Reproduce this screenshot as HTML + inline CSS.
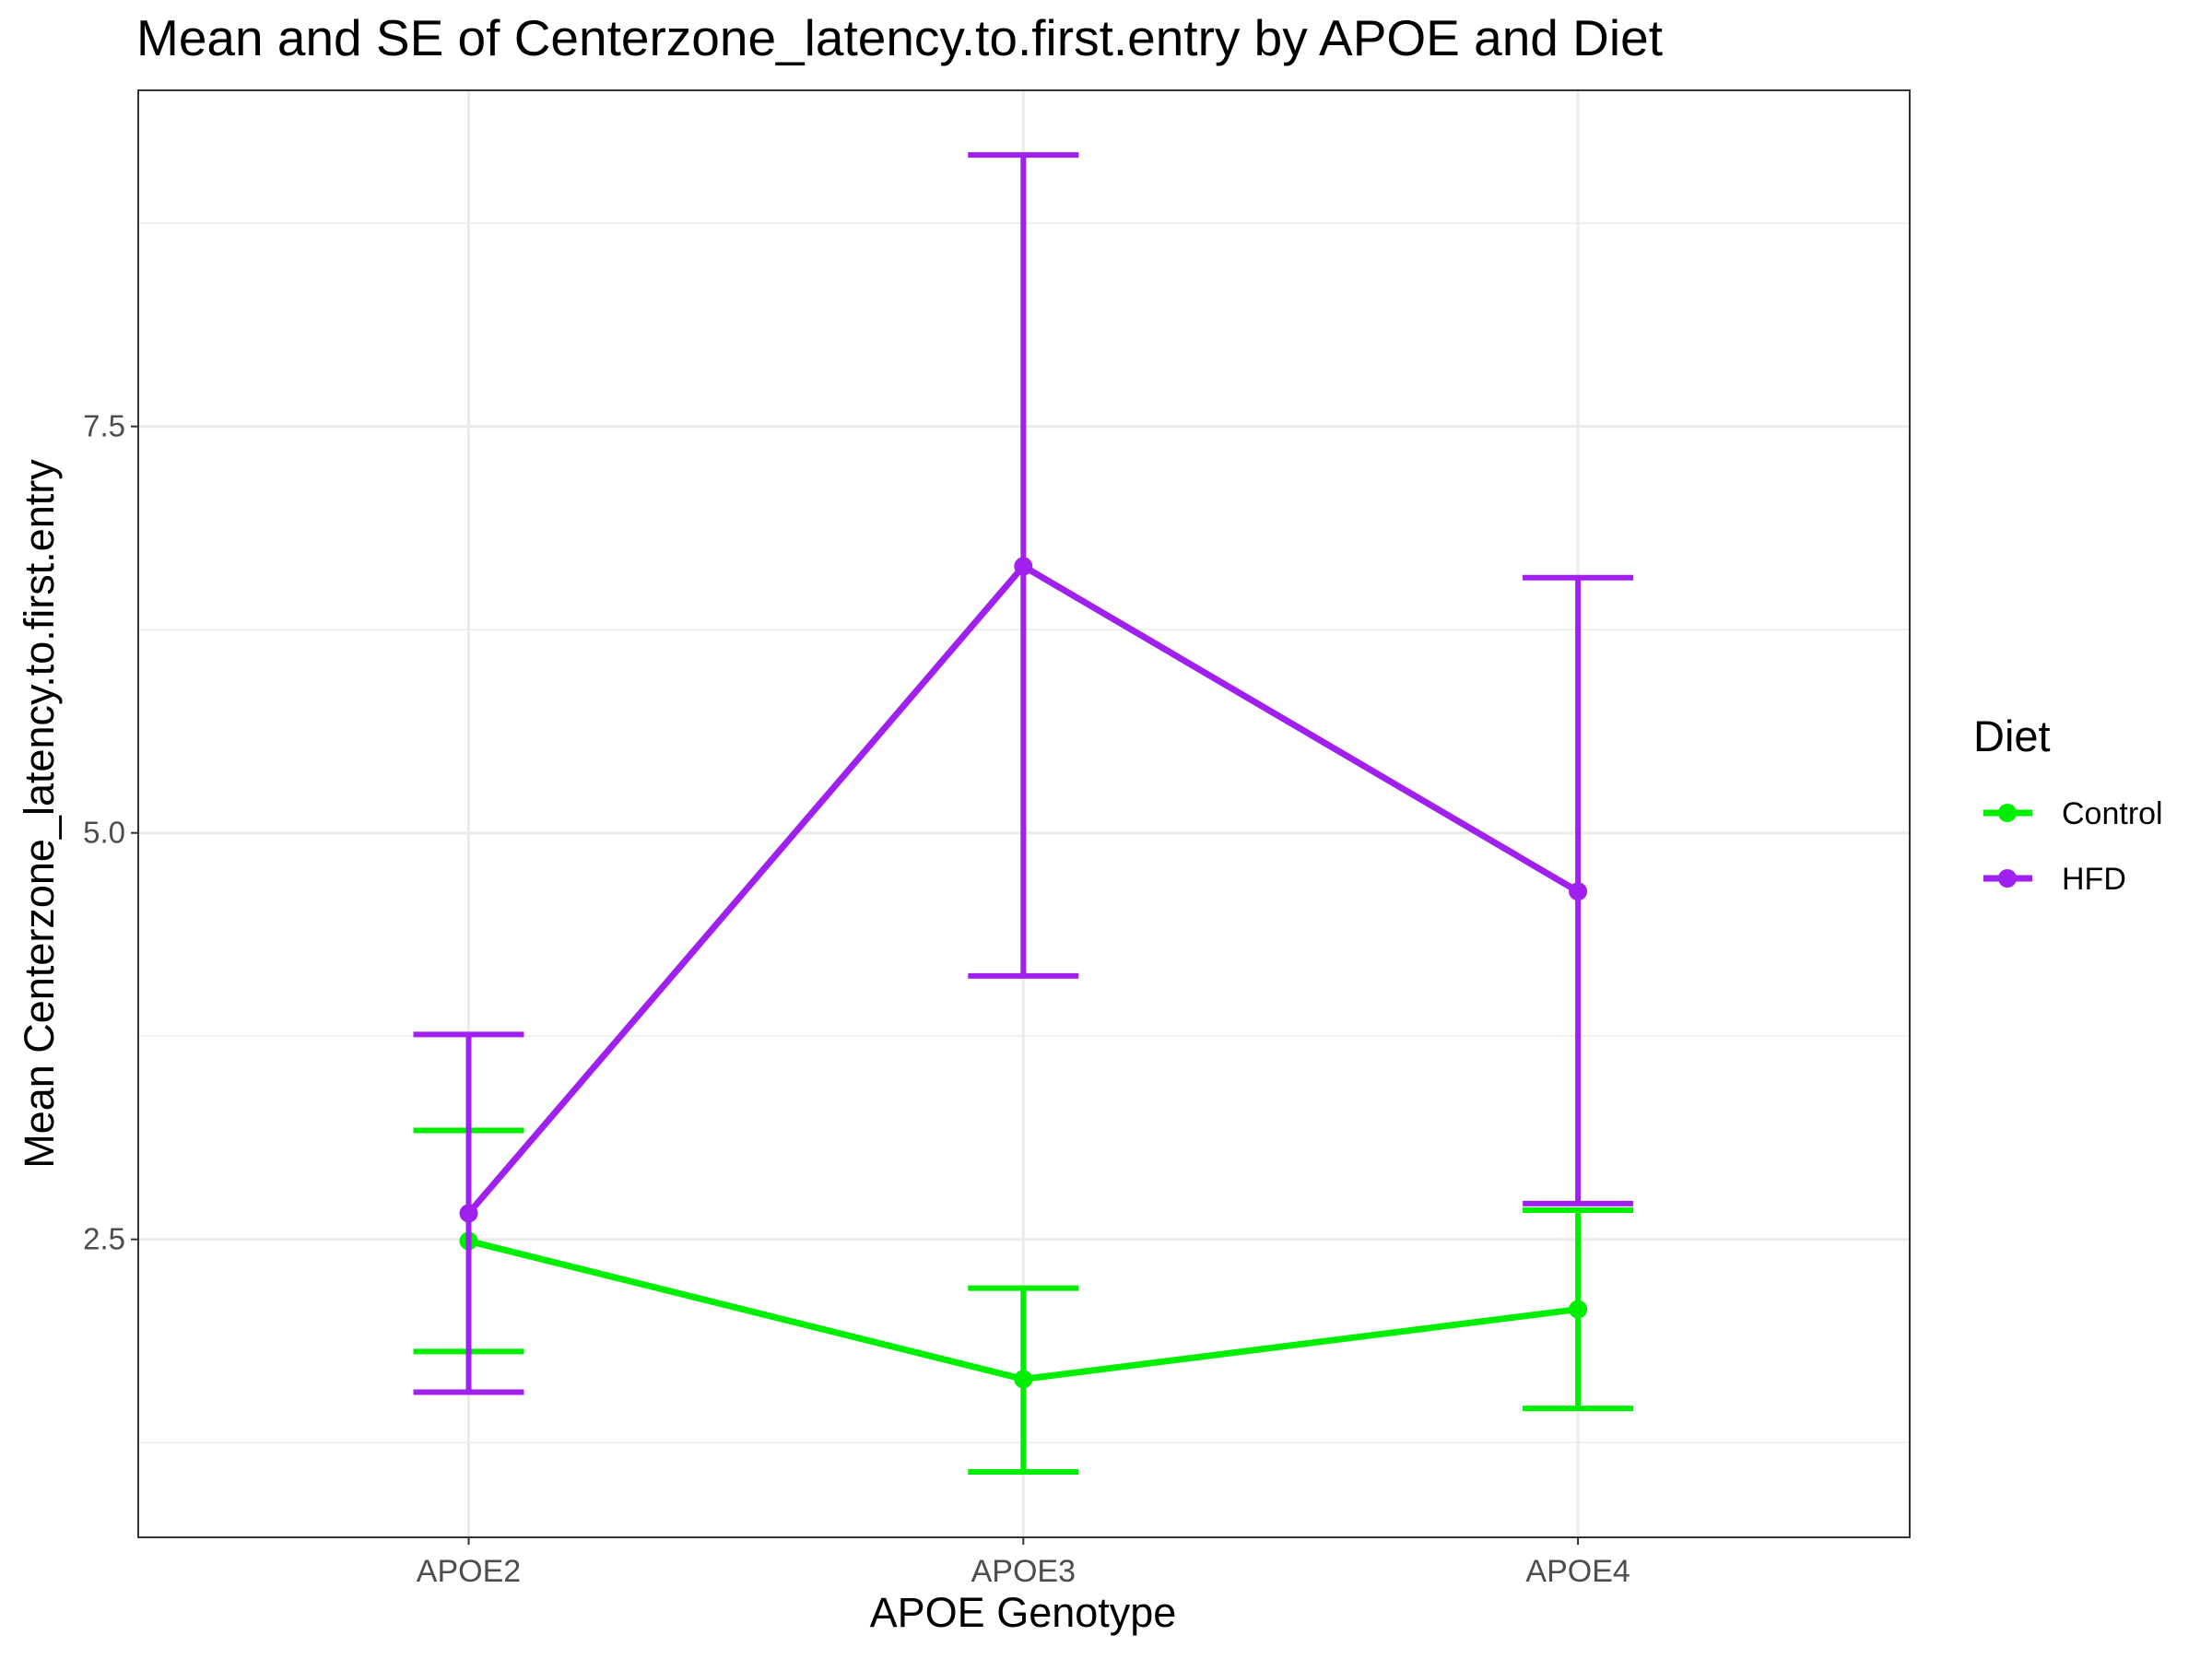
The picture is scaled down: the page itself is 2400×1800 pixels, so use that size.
<!DOCTYPE html>
<html><head><meta charset="utf-8"><style>
body{margin:0;background:#fff}
svg{display:block;font-family:"Liberation Sans",sans-serif}
</style></head><body>
<svg id="chart" width="2400" height="1800" viewBox="0 0 2400 1800" xmlns="http://www.w3.org/2000/svg">
<rect width="2400" height="1800" fill="#fff"/>
<text x="148" y="60" font-size="55" fill="#000">Mean and SE of Centerzone_latency.to.first.entry by APOE and Diet</text>
<g id="grid"></g>
<g id="series"></g>
<rect x="150" y="98" width="1922" height="1570" fill="none" stroke="#333" stroke-width="2"/>
<g id="axes"></g>
<text x="1110" y="1765" font-size="45" text-anchor="middle">APOE Genotype</text>
<text transform="translate(58,883) rotate(-90)" font-size="45" text-anchor="middle">Mean Centerzone_latency.to.first.entry</text>
<g>
<text x="2141" y="815" font-size="47">Diet</text>
<g>
<line x1="2152" y1="882" x2="2205" y2="882" stroke="#00ee00" stroke-width="7"/>
<circle cx="2178" cy="882" r="10" fill="#00ee00"/>
<text x="2237" y="894" font-size="34">Control</text></g>
<g>
<line x1="2152" y1="953" x2="2205" y2="953" stroke="#a020f0" stroke-width="7"/>
<circle cx="2178" cy="953" r="10" fill="#a020f0"/>
<text x="2237" y="965" font-size="34">HFD</text></g>
</g>
</svg>
<script>
const categories=["APOE2","APOE3","APOE4"];
const controlMean=[2.49,1.64,2.07];
const controlUpper=[3.17,2.20,2.68];
const controlLower=[1.81,1.07,1.46];
const hfdMean=[2.66,6.64,4.64];
const hfdUpper=[3.76,9.17,6.57];
const hfdLower=[1.56,4.12,2.72];
const yTicks=[2.5,5.0,7.5];
const yTickLabels=["2.5","5.0","7.5"];
const yMinor=[1.25,3.75,6.25,8.75];

const NS="http://www.w3.org/2000/svg";
const L=150,R=2072,T=98,B=1668;
function x(i){return 508.5+i*601.8;}
function y(v){return 1344.7-(v-2.5)*176.4;}
function mk(tag,attrs,parent){const e=document.createElementNS(NS,tag);for(const k in attrs)e.setAttribute(k,attrs[k]);parent.appendChild(e);return e;}
const grid=document.getElementById('grid'),ser=document.getElementById('series'),ax=document.getElementById('axes');
yMinor.forEach(v=>{const l=mk('line',{x1:L,x2:R,y1:y(v),y2:y(v),stroke:'#ebebeb','stroke-width':1.5},grid);

});
yTicks.forEach((v,i)=>{const l=mk('line',{x1:L,x2:R,y1:y(v),y2:y(v),stroke:'#ebebeb','stroke-width':3},grid);


const t=mk('line',{x1:L-8,x2:L,y1:y(v),y2:y(v),stroke:'#333','stroke-width':2},ax);


const tx=mk('text',{x:L-14,y:y(v)+11,'font-size':33,fill:'#4d4d4d','text-anchor':'end'},ax);tx.textContent=yTickLabels[i];

});
categories.forEach((c,i)=>{const l=mk('line',{x1:x(i),x2:x(i),y1:T,y2:B,stroke:'#ebebeb','stroke-width':3},grid);


const t=mk('line',{x1:x(i),x2:x(i),y1:B,y2:B+8,stroke:'#333','stroke-width':2},ax);


const tx=mk('text',{x:x(i),y:B+48,'font-size':34,fill:'#4d4d4d','text-anchor':'middle'},ax);tx.textContent=c;

});
function drawSeries(mean,up,lo,color,name){
  mean.forEach((m,i)=>{
    const g=mk('g',{},ser);
    
    
    mk('line',{x1:x(i),x2:x(i),y1:y(up[i]),y2:y(lo[i]),stroke:color,'stroke-width':6},g);
    mk('line',{x1:x(i)-60,x2:x(i)+60,y1:y(up[i]),y2:y(up[i]),stroke:color,'stroke-width':6},g);
    mk('line',{x1:x(i)-60,x2:x(i)+60,y1:y(lo[i]),y2:y(lo[i]),stroke:color,'stroke-width':6},g);
  });
  const p=mk('polyline',{points:mean.map((m,i)=>x(i)+','+y(m)).join(' '),fill:'none',stroke:color,'stroke-width':7,'stroke-linejoin':'round'},ser);
  
  
  mean.forEach((m,i)=>{const c=mk('circle',{cx:x(i),cy:y(m),r:10,fill:color},ser);
    
    });
}
drawSeries(controlMean,controlUpper,controlLower,'#00ee00','control');
drawSeries(hfdMean,hfdUpper,hfdLower,'#a020f0','hfd');
</script>
</body></html>
